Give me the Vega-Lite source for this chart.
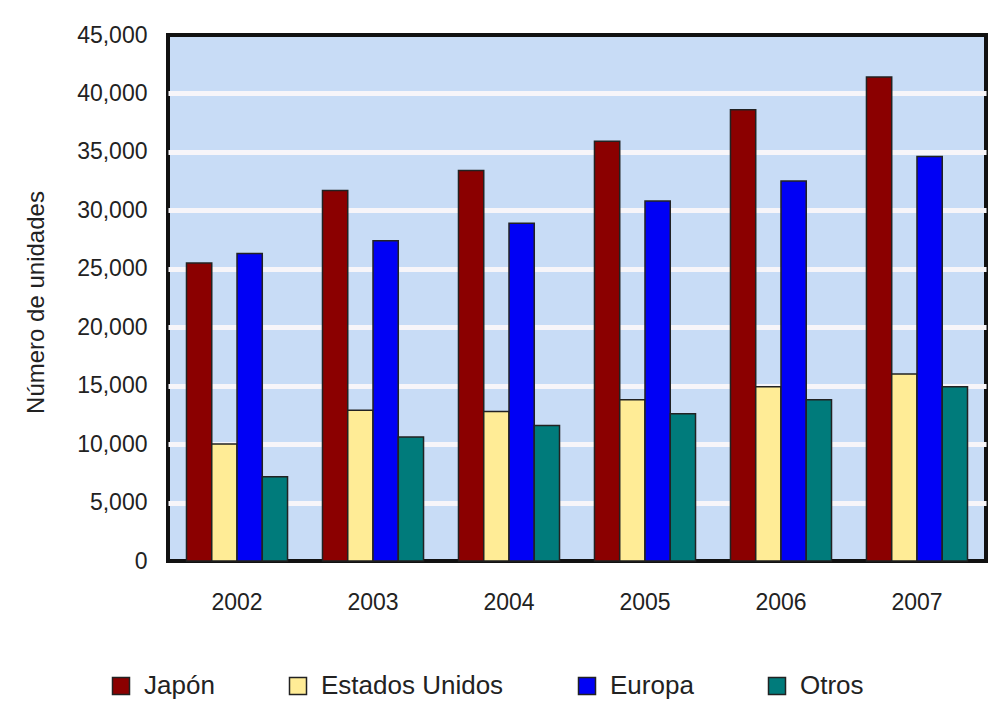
{
  "$schema": "https://vega.github.io/schema/vega-lite/v6.json",
  "autosize": {"type": "none"},
  "width": 818,
  "height": 526,
  "padding": {"left": 168, "top": 35, "right": 15, "bottom": 143},
  "background": "white",
  "data": {
    "values": [
      {"anio": "2002", "region": "Japón", "unidades": 25500},
      {"anio": "2002", "region": "Estados Unidos", "unidades": 10000},
      {"anio": "2002", "region": "Europa", "unidades": 26300},
      {"anio": "2002", "region": "Otros", "unidades": 7200},
      {"anio": "2003", "region": "Japón", "unidades": 31700},
      {"anio": "2003", "region": "Estados Unidos", "unidades": 12900},
      {"anio": "2003", "region": "Europa", "unidades": 27400},
      {"anio": "2003", "region": "Otros", "unidades": 10600},
      {"anio": "2004", "region": "Japón", "unidades": 33400},
      {"anio": "2004", "region": "Estados Unidos", "unidades": 12800},
      {"anio": "2004", "region": "Europa", "unidades": 28900},
      {"anio": "2004", "region": "Otros", "unidades": 11600},
      {"anio": "2005", "region": "Japón", "unidades": 35900},
      {"anio": "2005", "region": "Estados Unidos", "unidades": 13800},
      {"anio": "2005", "region": "Europa", "unidades": 30800},
      {"anio": "2005", "region": "Otros", "unidades": 12600},
      {"anio": "2006", "region": "Japón", "unidades": 38600},
      {"anio": "2006", "region": "Estados Unidos", "unidades": 14900},
      {"anio": "2006", "region": "Europa", "unidades": 32500},
      {"anio": "2006", "region": "Otros", "unidades": 13800},
      {"anio": "2007", "region": "Japón", "unidades": 41400},
      {"anio": "2007", "region": "Estados Unidos", "unidades": 16000},
      {"anio": "2007", "region": "Europa", "unidades": 34600},
      {"anio": "2007", "region": "Otros", "unidades": 14900}
    ]
  },
  "mark": {"type": "bar", "stroke": "#222222", "strokeWidth": 1.5},
  "encoding": {
    "x": {
      "field": "anio",
      "type": "ordinal",
      "scale": {"paddingInner": 0.257, "paddingOuter": 0.136},
      "axis": {
        "title": null,
        "labelAngle": 0,
        "ticks": false,
        "domain": false,
        "labelPadding": 30,
        "labelFontSize": 23,
        "labelFont": "Liberation Sans",
        "labelColor": "#222222"
      }
    },
    "xOffset": {
      "field": "region",
      "type": "nominal",
      "sort": ["Japón", "Estados Unidos", "Europa", "Otros"],
      "scale": {"paddingInner": 0, "paddingOuter": 0}
    },
    "y": {
      "field": "unidades",
      "type": "quantitative",
      "scale": {"domain": [0, 45000], "nice": false},
      "axis": {
        "title": "Número de unidades",
        "values": [0, 5000, 10000, 15000, 20000, 25000, 30000, 35000, 40000, 45000],
        "format": ",d",
        "ticks": false,
        "domain": false,
        "labelPadding": 21,
        "labelFontSize": 23,
        "labelFont": "Liberation Sans",
        "labelColor": "#222222",
        "titleFont": "Liberation Sans",
        "titleFontSize": 24,
        "titleFontWeight": "normal",
        "titleColor": "#222222",
        "titleAngle": -90,
        "titleAlign": "center",
        "titleBaseline": "middle",
        "titleX": -132,
        "titleY": 267,
        "gridColor": {
          "condition": {"test": "datum.value === 0 || datum.value === 45000", "value": "transparent"},
          "value": "#f7f5f9"
        },
        "gridWidth": 5
      }
    },
    "color": {
      "field": "region",
      "type": "nominal",
      "sort": ["Japón", "Estados Unidos", "Europa", "Otros"],
      "scale": {
        "domain": ["Japón", "Estados Unidos", "Europa", "Otros"],
        "range": ["#8b0000", "#ffec96", "#0000f5", "#007b7b"]
      },
      "legend": {
        "title": null,
        "orient": "none",
        "direction": "horizontal",
        "legendX": -60,
        "legendY": 638,
        "padding": 0,
        "symbolType": "square",
        "symbolSize": 289,
        "symbolStrokeColor": "#222222",
        "symbolStrokeWidth": 1.5,
        "symbolOpacity": 1,
        "labelFont": "Liberation Sans",
        "labelFontSize": 26,
        "labelColor": "#222222",
        "labelLimit": 0,
        "labelOffset": 10,
        "columnPadding": 70
      }
    }
  },
  "config": {
    "view": {"fill": "#c8dcf6", "stroke": "#111111", "strokeWidth": 4}
  }
}
